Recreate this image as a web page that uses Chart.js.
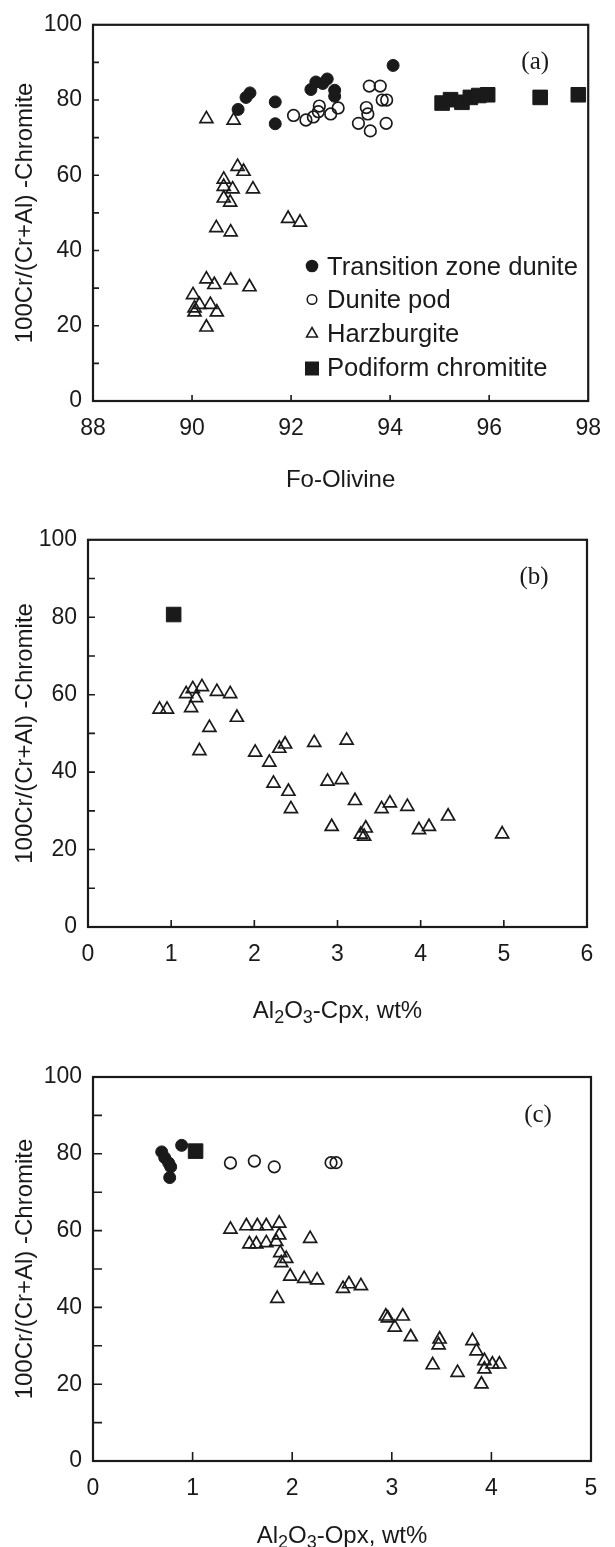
<!DOCTYPE html>
<html lang="en">
<head>
  <meta charset="UTF-8">
  <title>Chromite Cr# vs olivine Fo and pyroxene Al2O3</title>
  <script src="https://cdn.jsdelivr.net/npm/chart.js@4"></script>
  <style>
    body { margin: 0; background: #fff; }
    .panel { position: absolute; left: 0; width: 615px; }
  </style>
</head>
<body>
  <div class="panel" style="top:0"><canvas id="chartA" width="615" height="515"></canvas></div>
  <div class="panel" style="top:515px"><canvas id="chartB" width="615" height="520"></canvas></div>
  <div class="panel" style="top:1035px"><canvas id="chartC" width="615" height="512"></canvas></div>

  <script>
    // ---- data ----
    const seriesNames = ['Transition zone dunite', 'Dunite pod', 'Harzburgite', 'Podiform chromitite'];
    const panelTags = ['(a)', '(b)', '(c)'];
    const yLabels = [0, 20, 40, 60, 80, 100];
    const xLabelsA = [88, 90, 92, 94, 96, 98];
    const xLabelsB = [0, 1, 2, 3, 4, 5, 6];
    const xLabelsC = [0, 1, 2, 3, 4, 5];
    // axis titles as [text, subscript?] pieces
    const xTitleA = [['Fo-Olivine', false]];
    const xTitleB = [['Al', false], ['2', true], ['O', false], ['3', true], ['-Cpx, wt%', false]];
    const xTitleC = [['Al', false], ['2', true], ['O', false], ['3', true], ['-Opx, wt%', false]];

    // (a) Fo-olivine vs Cr#
    const tzFoA = [90.93, 91.09, 91.17, 91.68, 91.68, 92.40, 92.50, 92.64, 92.73, 92.88, 92.88, 94.06];
    const tzCrA = [77.5, 80.7, 81.9, 79.5, 73.7, 82.8, 84.8, 84.4, 85.6, 82.6, 81.0, 89.2];
    const podFoA = [92.05, 92.30, 92.45, 92.57, 92.55, 92.80, 92.95, 93.58, 93.80, 93.52, 93.55, 93.84, 93.93, 93.36, 93.60, 93.92];
    const podCrA = [75.9, 74.7, 75.5, 78.4, 76.9, 76.3, 77.9, 83.7, 83.7, 78.0, 76.3, 80.0, 80.0, 73.8, 71.8, 73.8];
    const hzFoA = [90.29, 90.84, 90.92, 91.04, 90.64, 90.64, 90.82, 91.23, 90.64, 90.77, 91.94, 92.18, 90.49, 90.78,
                   90.29, 90.45, 90.78, 91.16, 90.02, 90.15, 90.37, 90.05, 90.05, 90.50, 90.29];
    const hzCrA = [75.0, 74.6, 62.3, 61.0, 58.9, 57.0, 56.3, 56.3, 53.9, 52.8, 48.5, 47.5, 46.0, 44.9,
                   32.4, 30.9, 32.1, 30.3, 28.2, 25.6, 25.6, 24.7, 23.6, 23.6, 19.6];
    const chFoA = [95.05, 95.22, 95.45, 95.62, 95.79, 95.97, 97.03, 97.80];
    const chCrA = [79.2, 80.1, 79.4, 80.7, 81.2, 81.4, 80.7, 81.4];

    // (b) Al2O3 in cpx vs Cr#
    const hzAlB = [0.86, 0.95, 1.18, 1.26, 1.37, 1.55, 1.71, 1.30, 1.24, 1.79, 1.46, 1.34, 2.01, 2.30, 2.37, 2.72,
                   3.11, 2.18, 2.23, 2.41, 2.44, 2.88, 3.05, 3.21, 3.53, 3.63, 3.84, 2.93, 3.34, 3.28, 3.32,
                   3.98, 4.10, 4.33, 4.98];
    const hzCrB = [56.2, 56.2, 60.2, 61.5, 62.0, 60.8, 60.2, 59.2, 56.6, 54.1, 51.5, 45.5, 45.1, 46.1, 47.2, 47.6,
                   48.2, 42.5, 37.1, 35.0, 30.5, 37.6, 38.0, 32.6, 30.5, 32.0, 31.1, 25.9, 25.5, 23.9, 23.4,
                   25.1, 25.9, 28.6, 24.0];
    const chAlB = [1.03];
    const chCrB = [80.7];

    // (c) Al2O3 in opx vs Cr#
    const tzAlC = [0.69, 0.72, 0.76, 0.78, 0.77, 0.89];
    const tzCrC = [80.5, 79.0, 77.6, 76.6, 73.8, 82.2];
    const podAlC = [1.38, 1.62, 1.82, 2.39, 2.44];
    const podCrC = [77.6, 78.1, 76.6, 77.7, 77.7];
    const hzAlC = [1.38, 1.54, 1.65, 1.74, 1.87, 1.87, 1.57, 1.64, 1.74, 1.84, 2.18, 1.88, 1.94, 1.89, 1.98,
                   2.12, 2.25, 1.85, 2.51, 2.57, 2.69, 2.94, 2.96, 3.11, 3.03, 3.19, 3.48, 3.47, 3.41,
                   3.66, 3.81, 3.85, 3.93, 3.93, 4.01, 4.08, 3.90];
    const hzCrC = [60.3, 61.2, 61.2, 61.2, 61.9, 58.8, 56.5, 56.5, 56.8, 57.1, 57.9, 54.2, 52.7, 51.6, 48.1,
                   47.5, 47.1, 42.3, 44.9, 46.1, 45.6, 37.7, 37.2, 37.7, 34.8, 32.3, 31.7, 30.2, 25.0,
                   23.0, 31.3, 28.6, 26.1, 23.9, 25.2, 25.2, 20.0];
    const chAlC = [1.03];
    const chCrC = [80.7];

    // ---- styling ----
    const ink = '#1a1a1a';
    const sans = "'Liberation Sans', Arial, 'DejaVu Sans', sans-serif";
    const pts = (xs, ys) => xs.map((x, i) => ({ x: x, y: ys[i] }));

    const markStyle = {
      tz:  { pointStyle: 'circle',   pointRadius: 6,   pointBackgroundColor: ink, pointBorderColor: ink, pointBorderWidth: 1 },
      pod: { pointStyle: 'circle',   pointRadius: 5.8, pointBackgroundColor: 'rgba(0,0,0,0)', pointBorderColor: ink, pointBorderWidth: 1.7 },
      hz:  { pointStyle: 'triangle', pointRadius: 7.5, pointBackgroundColor: 'rgba(0,0,0,0)', pointBorderColor: ink, pointBorderWidth: 1.7 },
      ch:  { pointStyle: 'rect',     pointRadius: 10.3, pointBackgroundColor: ink, pointBorderColor: ink, pointBorderWidth: 1 }
    };
    const ds = (key, name, data) => Object.assign({ label: name, data: data, showLine: false }, markStyle[key]);

    // frame round the plot area, inward tick marks, panel tag and x title
    const framePlugin = {
      id: 'frame',
      afterDatasetsDraw(chart, args, opts) {
        const { ctx, chartArea: a, scales: { x, y } } = chart;
        ctx.save();
        ctx.strokeStyle = ink;
        ctx.lineWidth = 1.6;
        ctx.beginPath();
        x.ticks.forEach(t => {
          const px = x.getPixelForValue(t.value);
          if (px <= a.left + 1 || px >= a.right - 1) return;
          ctx.moveTo(px, a.bottom);
          ctx.lineTo(px, a.bottom - opts.len);
        });
        y.ticks.forEach(t => {
          const py = y.getPixelForValue(t.value);
          if (py <= a.top + 1 || py >= a.bottom - 1) return;
          ctx.moveTo(a.left, py);
          ctx.lineTo(a.left + opts.len, py);
        });
        ctx.stroke();
        ctx.lineWidth = 2.2;
        ctx.strokeRect(a.left, a.top, a.right - a.left, a.bottom - a.top);

        ctx.fillStyle = ink;
        ctx.font = "25px 'Liberation Serif', 'Times New Roman', serif";
        ctx.textAlign = 'center';
        ctx.textBaseline = 'middle';
        ctx.fillText(opts.tag, a.right - 53, a.top + 38);

        // x axis title with real subscripts
        const big = '24px ' + sans, small = '18px ' + sans;
        let total = 0;
        opts.title.forEach(([s, sub]) => { ctx.font = sub ? small : big; total += ctx.measureText(s).width; });
        let cx = (a.left + a.right) / 2 - total / 2;
        const base = opts.titleY + 8.5;
        ctx.textAlign = 'left';
        ctx.textBaseline = 'alphabetic';
        opts.title.forEach(([s, sub]) => {
          ctx.font = sub ? small : big;
          ctx.fillText(s, cx, sub ? base + 5 : base);
          cx += ctx.measureText(s).width;
        });
        ctx.restore();
      }
    };

    // legend for panel (a), drawn inside the plot area
    const legendPlugin = {
      id: 'innerLegend',
      afterDatasetsDraw(chart) {
        const ctx = chart.ctx;
        const mx = 312, tx = 327;
        const rows = [266, 299.5, 333, 367.5];
        ctx.save();
        ctx.strokeStyle = ink;
        ctx.fillStyle = ink;
        ctx.beginPath(); ctx.arc(mx, rows[0], 6.3, 0, Math.PI * 2); ctx.fill();
        ctx.lineWidth = 1.5;
        ctx.beginPath(); ctx.arc(mx, rows[1], 4.8, 0, Math.PI * 2); ctx.stroke();
        ctx.beginPath();
        ctx.moveTo(mx, rows[2] - 5.5);
        ctx.lineTo(mx + 5.5, rows[2] + 4);
        ctx.lineTo(mx - 5.5, rows[2] + 4);
        ctx.closePath(); ctx.stroke();
        ctx.fillRect(mx - 7, rows[3] - 6, 14, 14);
        ctx.font = '25.6px ' + sans;
        ctx.textAlign = 'left';
        ctx.textBaseline = 'alphabetic';
        seriesNames.forEach((n, i) => ctx.fillText(n, tx, rows[i] + 8.5));
        ctx.restore();
      }
    };

    function makePanel(id, p) {
      return new Chart(document.getElementById(id), {
        type: 'scatter',
        data: { datasets: p.datasets },
        options: {
          responsive: false,
          animation: false,
          events: [],
          layout: { padding: { top: p.padTop, right: p.padRight, left: 0, bottom: 0 } },
          plugins: {
            legend: { display: false },
            tooltip: { enabled: false },
            frame: { len: p.tickLen, tag: p.tag, title: p.xTitle, titleY: p.titleY }
          },
          scales: {
            x: {
              type: 'linear',
              min: p.xLabels[0],
              max: p.xLabels[p.xLabels.length - 1],
              afterFit: s => { s.height = p.xHeight; },
              grid: { display: false, drawTicks: false },
              border: { display: false },
              ticks: {
                stepSize: p.xLabels[1] - p.xLabels[0],
                autoSkip: false,
                maxRotation: 0,
                padding: 14,
                color: ink,
                font: { family: sans, size: 23 },
                callback: v => p.xLabels.includes(v) ? String(v) : ''
              },
              title: { display: false }
            },
            y: {
              type: 'linear',
              min: 0,
              max: 100,
              afterFit: s => { s.width = p.yWidth; },
              grid: { display: false, drawTicks: false },
              border: { display: false },
              ticks: {
                stepSize: 10,
                autoSkip: false,
                padding: 11,
                color: ink,
                font: { family: sans, size: 23 },
                callback: v => yLabels.includes(v) ? String(v) : ''
              },
              title: {
                display: true,
                text: '100Cr/(Cr+Al) -Chromite',
                color: ink,
                font: { family: sans, size: 24, lineHeight: 1.2 },
                padding: { top: 11, bottom: 0 }
              }
            }
          }
        },
        plugins: p.legend ? [framePlugin, legendPlugin] : [framePlugin]
      });
    }

    makePanel('chartA', {
      datasets: [
        ds('tz', seriesNames[0], pts(tzFoA, tzCrA)),
        ds('pod', seriesNames[1], pts(podFoA, podCrA)),
        ds('hz', seriesNames[2], pts(hzFoA, hzCrA)),
        ds('ch', seriesNames[3], pts(chFoA, chCrA))
      ],
      xLabels: xLabelsA, xTitle: xTitleA, tag: panelTags[0], legend: true,
      padTop: 22, padRight: 25, yWidth: 93, xHeight: 114, titleY: 478, tickLen: 6
    });

    makePanel('chartB', {
      datasets: [
        ds('hz', seriesNames[2], pts(hzAlB, hzCrB)),
        ds('ch', seriesNames[3], pts(chAlB, chCrB))
      ],
      xLabels: xLabelsB, xTitle: xTitleB, tag: panelTags[1], legend: false,
      padTop: 23, padRight: 28, yWidth: 88, xHeight: 108, titleY: 494, tickLen: 7
    });

    makePanel('chartC', {
      datasets: [
        ds('tz', seriesNames[0], pts(tzAlC, tzCrC)),
        ds('pod', seriesNames[1], pts(podAlC, podCrC)),
        ds('hz', seriesNames[2], pts(hzAlC, hzCrC)),
        ds('ch', seriesNames[3], pts(chAlC, chCrC))
      ],
      xLabels: xLabelsC, xTitle: xTitleC, tag: panelTags[2], legend: false,
      padTop: 42, padRight: 24, yWidth: 93, xHeight: 86, titleY: 499, tickLen: 9
    });
  </script>
</body>
</html>
